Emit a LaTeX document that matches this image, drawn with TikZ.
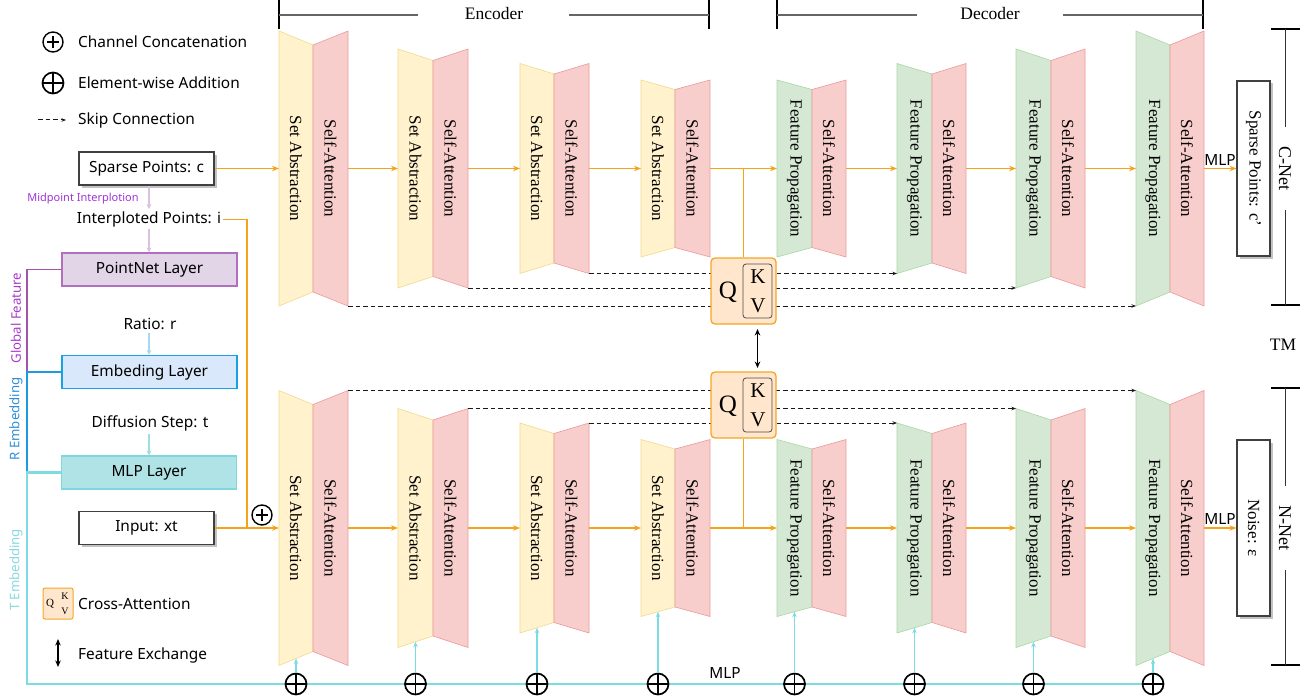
\documentclass[tikz,border=0pt]{standalone}
\usepackage{fontspec}
\setmainfont{Liberation Serif}
\setsansfont{Noto Sans}
\usetikzlibrary{arrows.meta,shadows}
\definecolor{yelFill}{HTML}{FFF2CC}
\definecolor{yelDraw}{HTML}{F2DA8C}
\definecolor{pinkFill}{HTML}{F8CECC}
\definecolor{pinkDraw}{HTML}{EA9A9A}
\definecolor{grnFill}{HTML}{D5E8D4}
\definecolor{grnDraw}{HTML}{A8D8A3}
\definecolor{orC}{HTML}{F5A31A}
\definecolor{qkvFill}{HTML}{FFE6CC}
\definecolor{qkvDraw}{HTML}{F5A623}
\definecolor{purFill}{HTML}{E1D5E7}
\definecolor{purDraw}{HTML}{B36FBF}
\definecolor{bluFill}{HTML}{DAE8FC}
\definecolor{bluDraw}{HTML}{1BA1E2}
\definecolor{tlFill}{HTML}{B0E3E6}
\definecolor{tlDraw}{HTML}{7FD6DE}
\definecolor{purLine}{HTML}{A453AD}
\definecolor{bluLine}{HTML}{1E9BE0}
\definecolor{tlLine}{HTML}{7DDCE3}
\definecolor{purArr}{HTML}{D9C2E0}
\definecolor{bluArr}{HTML}{A8D8F0}
\definecolor{tlArr}{HTML}{9FDDE0}
\definecolor{labPur}{HTML}{A63ACB}
\definecolor{labMid}{HTML}{A033D8}
\definecolor{labBlu}{HTML}{2E8FD8}
\definecolor{labTl}{HTML}{8AD8E0}

\newcommand\blk[9]{%
  \filldraw[#8] (#2,#5-#6) -- (#3,#5-#7) -- (#3,#5+#7) -- (#2,#5+#6) -- cycle;
  \filldraw[pinkblk] (#3,#5-#7) -- (#4,#5-#6) -- (#4,#5+#6) -- (#3,#5+#7) -- cycle;
  \node[blktxt] (#1-a) at ({(#2+#3)/2},#5) {#9};
  \node[blktxt] (#1-b) at ({(#3+#4)/2},#5) {Self-Attention};
  \coordinate (#1-in) at (#2,#5);
  \coordinate (#1-out) at (#4,#5);
  \coordinate (#1-tl) at (#2,#5-#6);
  \coordinate (#1-bl) at (#2,#5+#6);
  \coordinate (#1-tr) at (#4,#5-#6);
  \coordinate (#1-br) at (#4,#5+#6);
  \coordinate (#1-bot) at ({(#2+#3)/2},{#5+(#6+#7)/2});
}

\begin{document}
\begin{tikzpicture}[x=1pt,y=-1pt,
  sans/.style={font=\sffamily\fontsize{15.4}{18}\selectfont},
  hdr/.style={font=\rmfamily\fontsize{17.5}{18}\selectfont, inner sep=1pt},
  blktxt/.style={rotate=-90, font=\rmfamily\fontsize{17}{17}\selectfont, inner sep=0pt},
  yelblk/.style={fill=yelFill, draw=yelDraw, line width=0.6pt},
  pinkblk/.style={fill=pinkFill, draw=pinkDraw, line width=0.6pt},
  grnblk/.style={fill=grnFill, draw=grnDraw, line width=0.6pt},
  orline/.style={color=orC, line width=1.8pt},
  orarrow/.style={orline, -{Stealth[length=7pt,width=5.5pt]}},
  skipline/.style={draw=black!90, line width=1pt, dash pattern=on 4.5pt off 3pt, -{Stealth[length=4.5pt,width=3.5pt]}},
  shbox/.style={draw=black!75, line width=1.1pt, fill=white, drop shadow={shadow xshift=2.5pt, shadow yshift=-2.5pt, opacity=0.4, fill=black!60}, minimum width=135pt, minimum height=33pt, sans},
  layerbox/.style={line width=1.2pt, minimum width=175pt, minimum height=33pt, sans},
  qkvbox/.style={draw=qkvDraw, fill=qkvFill, line width=1.3pt, rounded corners=4pt, minimum width=65pt, minimum height=66pt},
  kvbox/.style={draw=black!70, fill=qkvFill, line width=0.8pt, rounded corners=3pt, minimum width=29pt, minimum height=54pt},
  qtxt/.style={font=\rmfamily\fontsize{25}{25}\selectfont, inner sep=0pt},
  kvtxt/.style={font=\rmfamily\fontsize{21}{21}\selectfont, inner sep=0pt},
  addc/.style={circle, draw, fill=white, line width=1.7pt, minimum size=21pt, inner sep=0pt,
    path picture={\draw[line width=1.7pt] (path picture bounding box.north) -- (path picture bounding box.south) (path picture bounding box.west) -- (path picture bounding box.east);}},
  catc/.style={circle, draw, fill=white, line width=1.4pt, minimum size=20pt, inner sep=0pt,
    path picture={\draw[line width=1.4pt] ([yshift=6pt]path picture bounding box.center) -- ([yshift=-6pt]path picture bounding box.center) ([xshift=-6pt]path picture bounding box.center) -- ([xshift=6pt]path picture bounding box.center);}},
  tlarrow/.style={draw=tlLine, line width=1.5pt, -{Stealth[length=5.5pt,width=4.5pt]}},
  xarrow/.style={draw=black, line width=1.2pt, {Stealth[length=6.5pt,width=5.5pt]}-{Stealth[length=6.5pt,width=5.5pt]}},
  brtick/.style={draw=black, line width=2.6pt},
  brline/.style={draw=black!60, line width=1.1pt},
  sidelab/.style={rotate=90, font=\sffamily\fontsize{13.2}{14}\selectfont, inner sep=0pt}
]
\useasboundingbox (0,0) rectangle (1305,698);

% ---------- brackets ----------
\draw[brtick] (279,0) -- (279,29);
\draw[brtick] (709,0) -- (709,29);
\node[hdr] (enc) at (494,14) {Encoder};
\draw[brline] (279,15) -- (418,15) (569,15) -- (709,15);
\draw[brtick] (777,0) -- (777,29);
\draw[brtick] (1203,0) -- (1203,29);
\node[hdr] (dec) at (990,14) {Decoder};
\draw[brline] (777,15) -- (917,15) (1063,15) -- (1203,15);

\draw[brtick] (1271,29) -- (1300,29);
\draw[brtick] (1271,305) -- (1300,305);
\draw[draw=black!80, line width=1pt] (1285,29) -- (1285,127) (1285,210) -- (1285,305);
\node[blktxt, font=\rmfamily\fontsize{18}{18}\selectfont] (cnet) at (1285,168.5) {C-Net};
\node[hdr] (tm) at (1283,345) {TM};
\draw[brtick] (1271,388) -- (1300,388);
\draw[brtick] (1271,665) -- (1300,665);
\draw[draw=black!80, line width=1pt] (1285,388) -- (1285,486) (1285,570) -- (1285,665);
\node[blktxt, font=\rmfamily\fontsize{18}{18}\selectfont] (nnet) at (1285,528) {N-Net};

% ---------- blocks, top row (C-Net) ----------
\blk{E1}{279}{313}{348}{168.5}{137.5}{123.5}{yelblk}{Set Abstraction}
\blk{E2}{398}{433}{468}{168.5}{119.5}{108}{yelblk}{Set Abstraction}
\blk{E3}{520}{554}{589}{168.5}{105}{94.5}{yelblk}{Set Abstraction}
\blk{E4}{641}{675}{710}{168.5}{88.5}{79}{yelblk}{Set Abstraction}
\blk{D1}{777}{812}{846}{168.5}{88.5}{79}{grnblk}{Feature Propagation}
\blk{D2}{897}{932}{966}{168.5}{105}{94.5}{grnblk}{Feature Propagation}
\blk{D3}{1016}{1051}{1085}{168.5}{119.5}{108}{grnblk}{Feature Propagation}
\blk{D4}{1136}{1170}{1204}{168.5}{137.5}{123.5}{grnblk}{Feature Propagation}

% ---------- blocks, bottom row (N-Net) ----------
\blk{E1b}{279}{313}{348}{528}{137.5}{123.5}{yelblk}{Set Abstraction}
\blk{E2b}{398}{433}{468}{528}{119.5}{108}{yelblk}{Set Abstraction}
\blk{E3b}{520}{554}{589}{528}{105}{94.5}{yelblk}{Set Abstraction}
\blk{E4b}{641}{675}{710}{528}{88.5}{79}{yelblk}{Set Abstraction}
\blk{D1b}{777}{812}{846}{528}{88.5}{79}{grnblk}{Feature Propagation}
\blk{D2b}{897}{932}{966}{528}{105}{94.5}{grnblk}{Feature Propagation}
\blk{D3b}{1016}{1051}{1085}{528}{119.5}{108}{grnblk}{Feature Propagation}
\blk{D4b}{1136}{1170}{1204}{528}{137.5}{123.5}{grnblk}{Feature Propagation}

% ---------- skip connections ----------
\draw[skipline] (E3-br) -- (D2-bl);
\draw[skipline] (E2-br) -- (D3-bl);
\draw[skipline] (E1-br) -- (D4-bl);
\draw[skipline] (E3b-tr) -- (D2b-tl);
\draw[skipline] (E2b-tr) -- (D3b-tl);
\draw[skipline] (E1b-tr) -- (D4b-tl);

% ---------- cross attention boxes ----------
\node[qkvbox] (qkvT) at (743.5,291) {};
\node[kvbox] (kvT) at (757.5,291) {};
\node[qtxt] (qT) at (728,292) {Q};
\node[kvtxt] (kT) at (758,277) {K};
\node[kvtxt] (vT) at (758,306) {V};
\node[qkvbox] (qkvB) at (743.5,405) {};
\node[kvbox] (kvB) at (757.5,405) {};
\node[qtxt] (qB) at (728,406) {Q};
\node[kvtxt] (kB) at (758,391) {K};
\node[kvtxt] (vB) at (758,420) {V};
\coordinate (fxT) at (757.5,329);
\coordinate (fxB) at (757.5,368);
\draw[xarrow] (fxT) -- (fxB);

% ---------- output boxes ----------
\node[shbox, minimum width=33pt, minimum height=175pt] (cout) at (1253.5,168.5) {};
\node[blktxt] (couttxt) at (cout.center) {Sparse Points: c’};
\node[shbox, minimum width=33pt, minimum height=176pt] (nout) at (1253.5,528) {};
\node[blktxt] (nouttxt) at (nout.center) {Noise: ε};

% ---------- left panel ----------
\node[catc] (lgcat) at (53,42) {};
\node[sans, anchor=west, inner sep=0pt] (lgcatt) at (78,42) {Channel Concatenation};
\node[addc] (lgadd) at (53,83) {};
\node[sans, anchor=west, inner sep=0pt] (lgaddt) at (78,83) {Element-wise Addition};
\coordinate (sk1) at (38,120);
\coordinate (sk2) at (66,120);
\draw[skipline] (sk1) -- (sk2);
\node[sans, anchor=west, inner sep=0pt] (lgskt) at (78,120) {Skip Connection};

\node[shbox] (sp) at (146.5,168.5) {Sparse Points: c};
\node[font=\sffamily\fontsize{11}{12}\selectfont, text=labMid, inner sep=0pt] (midp) at (83,199) {Midpoint Interplotion};
\node[sans, inner sep=2pt] (ip) at (149,219.5) {Interploted Points: i};
\node[layerbox, draw=purDraw, fill=purFill] (pn) at (149.5,269.5) {PointNet Layer};
\node[sans] (ratio) at (150,324) {Ratio: r};
\node[layerbox, draw=bluDraw, fill=bluFill] (emb) at (149.5,372) {Embeding Layer};
\node[sans] (dstep) at (150,423) {Diffusion Step: t};
\node[layerbox, draw=tlDraw, fill=tlFill] (mlpl) at (149,472.5) {MLP Layer};
\node[shbox] (inp) at (146.5,528) {Input: xt};

\draw[draw=purArr, line width=1.4pt, -{Stealth[length=5pt,width=5pt]}] (sp.south -| 149,0) -- (149,209);
\draw[draw=purArr, line width=1.4pt, -{Stealth[length=5pt,width=5pt]}] (149,229) -- (pn.north -| 149,0);
\draw[draw=bluArr, line width=1.4pt, -{Stealth[length=5pt,width=5pt]}] (149,333) -- (emb.north -| 149,0);
\draw[draw=tlArr, line width=1.4pt, -{Stealth[length=5pt,width=5pt]}] (149,434) -- (mlpl.north -| 149,0);

\node[qkvbox, minimum width=30pt, minimum height=31pt, line width=1pt, rounded corners=2pt] (lgq) at (58,603.5) {};
\node[font=\rmfamily\fontsize{11}{11}\selectfont, inner sep=0pt] at (50,604) {Q};
\node[font=\rmfamily\fontsize{10}{10}\selectfont, inner sep=0pt] at (65,596) {K};
\node[font=\rmfamily\fontsize{10}{10}\selectfont, inner sep=0pt] at (65,611) {V};
\node[sans, anchor=west, inner sep=0pt] (lgqt) at (78,604) {Cross-Attention};
\coordinate (fx1) at (58,639);
\coordinate (fx2) at (58,667);
\draw[xarrow] (fx1) -- (fx2);
\node[sans, anchor=west, inner sep=0pt] (lgfx) at (78,655) {Feature Exchange};

\node[sidelab, text=labPur] (gfl) at (16,318) {Global Feature};
\node[sidelab, text=labBlu] (rel) at (16,419) {R Embedding};
\node[sidelab, text=labTl] (tel) at (16,570) {T Embedding};

% ---------- embedding lines ----------
\coordinate (baseL) at (0,684);
\draw[draw=purLine, line width=1.6pt] (pn.west) -- (27,269.5) -- (27,372);
\draw[draw=bluLine, line width=1.6pt] (emb.west) -- (27,372) -- (27,472.5);
\draw[draw=tlLine, line width=2.6pt, shorten >=10pt] (mlpl.west) -- (27,472.5) -- (27,684) -- (D4b-bot |- baseL);
\node[sans, inner sep=0pt] (mlpb) at (725,673) {MLP};
\foreach \b in {E1b,E2b,E3b,E4b,D1b,D2b,D3b,D4b} {
  \node[addc] (\b-p) at (\b-bot |- baseL) {};
  \draw[tlarrow] (\b-p.north) -- (\b-bot);
}

% ---------- main orange flow, top ----------
\draw[orarrow] (sp.east) -- (E1-in);
\draw[orarrow] (E1-out) -- (E2-in);
\draw[orarrow] (E2-out) -- (E3-in);
\draw[orarrow] (E3-out) -- (E4-in);
\draw[orarrow] (E4-out) -- (D1-in);
\draw[orarrow] (D1-out) -- (D2-in);
\draw[orarrow] (D2-out) -- (D3-in);
\draw[orarrow] (D3-out) -- (D4-in);
\draw[orarrow] (D4-out) -- (cout.west);
\coordinate (brT) at (743.5,168.5);
\draw[orline] (brT) -- (qkvT.north);
\node[sans, inner sep=0pt] (mlpt) at (1220,160) {MLP};

% ---------- main orange flow, bottom ----------
\coordinate (cj) at (247,528);
\draw[orline] (ip.east) -| (cj);
\draw[orarrow] (inp.east) -- (E1b-in);
\node[catc] (cat) at (262,515) {};
\draw[orarrow] (E1b-out) -- (E2b-in);
\draw[orarrow] (E2b-out) -- (E3b-in);
\draw[orarrow] (E3b-out) -- (E4b-in);
\draw[orarrow] (E4b-out) -- (D1b-in);
\draw[orarrow] (D1b-out) -- (D2b-in);
\draw[orarrow] (D2b-out) -- (D3b-in);
\draw[orarrow] (D3b-out) -- (D4b-in);
\draw[orarrow] (D4b-out) -- (nout.west);
\coordinate (brB) at (743.5,528);
\draw[orline] (qkvB.south) -- (brB);
\node[sans, inner sep=0pt] (mlpn) at (1220,519) {MLP};
\end{tikzpicture}
\end{document}
